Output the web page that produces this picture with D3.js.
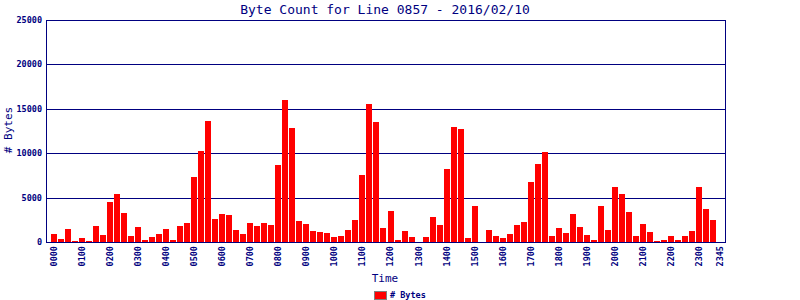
<!DOCTYPE html>
<html>
<head>
<meta charset="utf-8">
<script src="https://cdn.jsdelivr.net/npm/d3@7"></script>
<style>
    body { margin: 0; background: #fff; }
    text { font-family: "DejaVu Sans Mono", monospace; fill: #000080; }
</style>
</head>
<body>
<div id="chart"></div>
<script>
// 15 minute slots, 0000 .. 2345
var times = d3.range(96).map(function (i) {
    var h = Math.floor(i / 4), m = (i % 4) * 15;
    return d3.format("02")(h) + d3.format("02")(m);
});

var bytes = [
    900, 340, 1460, 110, 450, 110, 1800, 790,
    4500, 5400, 3260, 675, 1690, 225, 560, 900,
    1460, 225, 1800, 2140, 7310, 10240, 13610, 2590,
    3150, 3040, 1350, 900, 2140, 1800, 2140, 1910,
    8660, 16000, 12825, 2360, 2025, 1240, 1125, 1010,
    560, 675, 1350, 2475, 7540, 15540, 13500, 1575,
    3490, 225, 1240, 560, 0, 560, 2810, 1910,
    8210, 12940, 12710, 450, 4050, 0, 1350, 675,
    450, 900, 1910, 2250, 6750, 8775, 10125, 675,
    1575, 1010, 3150, 1690, 790, 225, 4050, 1350,
    6190, 5400, 3375, 675, 2025, 1125, 110, 225,
    675, 225, 675, 1240, 6190, 3710, 2475, 0
];

var yTicks = [0, 5000, 10000, 15000, 20000, 25000];
var xLabels = times.filter(function (d, i) { return i % 4 == 0; }).concat(["2345"]);

var width = 800, height = 300;
var navy = "#000080";

var svg = d3.select("#chart")
    .append("svg")
    .attr("width", width)
    .attr("height", height);

var x = d3.scaleBand()
    .domain(times)
    .range([51, 723])
    .paddingInner(1 / 7)
    .paddingOuter(0);

var y = d3.scaleLinear()
    .domain([0, 25000])
    .range([242, 20]);

// grid lines
svg.selectAll("line.grid")
    .data(yTicks)
    .enter()
    .append("line")
    .attr("class", "grid")
    .attr("x1", 46)
    .attr("x2", 725)
    .attr("y1", function (d) { return Math.round(y(d)) + 0.5; })
    .attr("y2", function (d) { return Math.round(y(d)) + 0.5; })
    .attr("stroke", navy)
    .attr("stroke-width", 1);

// bars
svg.selectAll("rect.bar")
    .data(bytes)
    .enter()
    .append("rect")
    .attr("class", "bar")
    .attr("x", function (d, i) { return Math.round(x(times[i])); })
    .attr("width", 6)
    .attr("y", function (d) { return y(d); })
    .attr("height", function (d) { return y(0) - y(d); })
    .attr("fill", "#ff0000")
    .attr("shape-rendering", "crispEdges");

// frame
svg.append("line")
    .attr("x1", 46.5).attr("x2", 46.5).attr("y1", 20).attr("y2", 243)
    .attr("stroke", navy);
svg.append("line")
    .attr("x1", 725.5).attr("x2", 725.5).attr("y1", 20).attr("y2", 243)
    .attr("stroke", navy);
svg.append("line")
    .attr("x1", 46).attr("x2", 726).attr("y1", 242.5).attr("y2", 242.5)
    .attr("stroke", navy);

// y tick labels
svg.selectAll("text.ytick")
    .data(yTicks)
    .enter()
    .append("text")
    .attr("class", "ytick")
    .attr("x", 42)
    .attr("y", function (d) { return y(d); })
    .attr("dy", "0.35em")
    .attr("text-anchor", "end")
    .style("font-size", "8.5px")
    .style("font-weight", "bold")
    .text(function (d) { return d; });

// x tick labels
svg.selectAll("text.xtick")
    .data(xLabels)
    .enter()
    .append("text")
    .attr("class", "xtick")
    .attr("transform", function (d) {
        return "translate(" + (x(d) + x.bandwidth() / 2) + ",246) rotate(-90)";
    })
    .attr("dy", "0.35em")
    .attr("text-anchor", "end")
    .style("font-size", "8.5px")
    .style("font-weight", "bold")
    .text(function (d) { return d; });

// title
svg.append("text")
    .attr("x", 385)
    .attr("y", 14)
    .attr("text-anchor", "middle")
    .style("font-size", "13px")
    .text("Byte Count for Line 0857 - 2016/02/10");

// axis titles
svg.append("text")
    .attr("x", 385)
    .attr("y", 282)
    .attr("text-anchor", "middle")
    .style("font-size", "11px")
    .text("Time");

svg.append("text")
    .attr("transform", "translate(8,130) rotate(-90)")
    .attr("dy", "0.35em")
    .attr("text-anchor", "middle")
    .style("font-size", "11px")
    .text("# Bytes");

// legend
svg.append("rect")
    .attr("x", 374.5)
    .attr("y", 291.5)
    .attr("width", 12)
    .attr("height", 8)
    .attr("fill", "#ff0000")
    .attr("stroke", "#808080");

svg.append("text")
    .attr("x", 390)
    .attr("y", 295.5)
    .attr("dy", "0.35em")
    .style("font-size", "8.5px")
    .style("font-weight", "bold")
    .text("# Bytes");
</script>
</body>
</html>
